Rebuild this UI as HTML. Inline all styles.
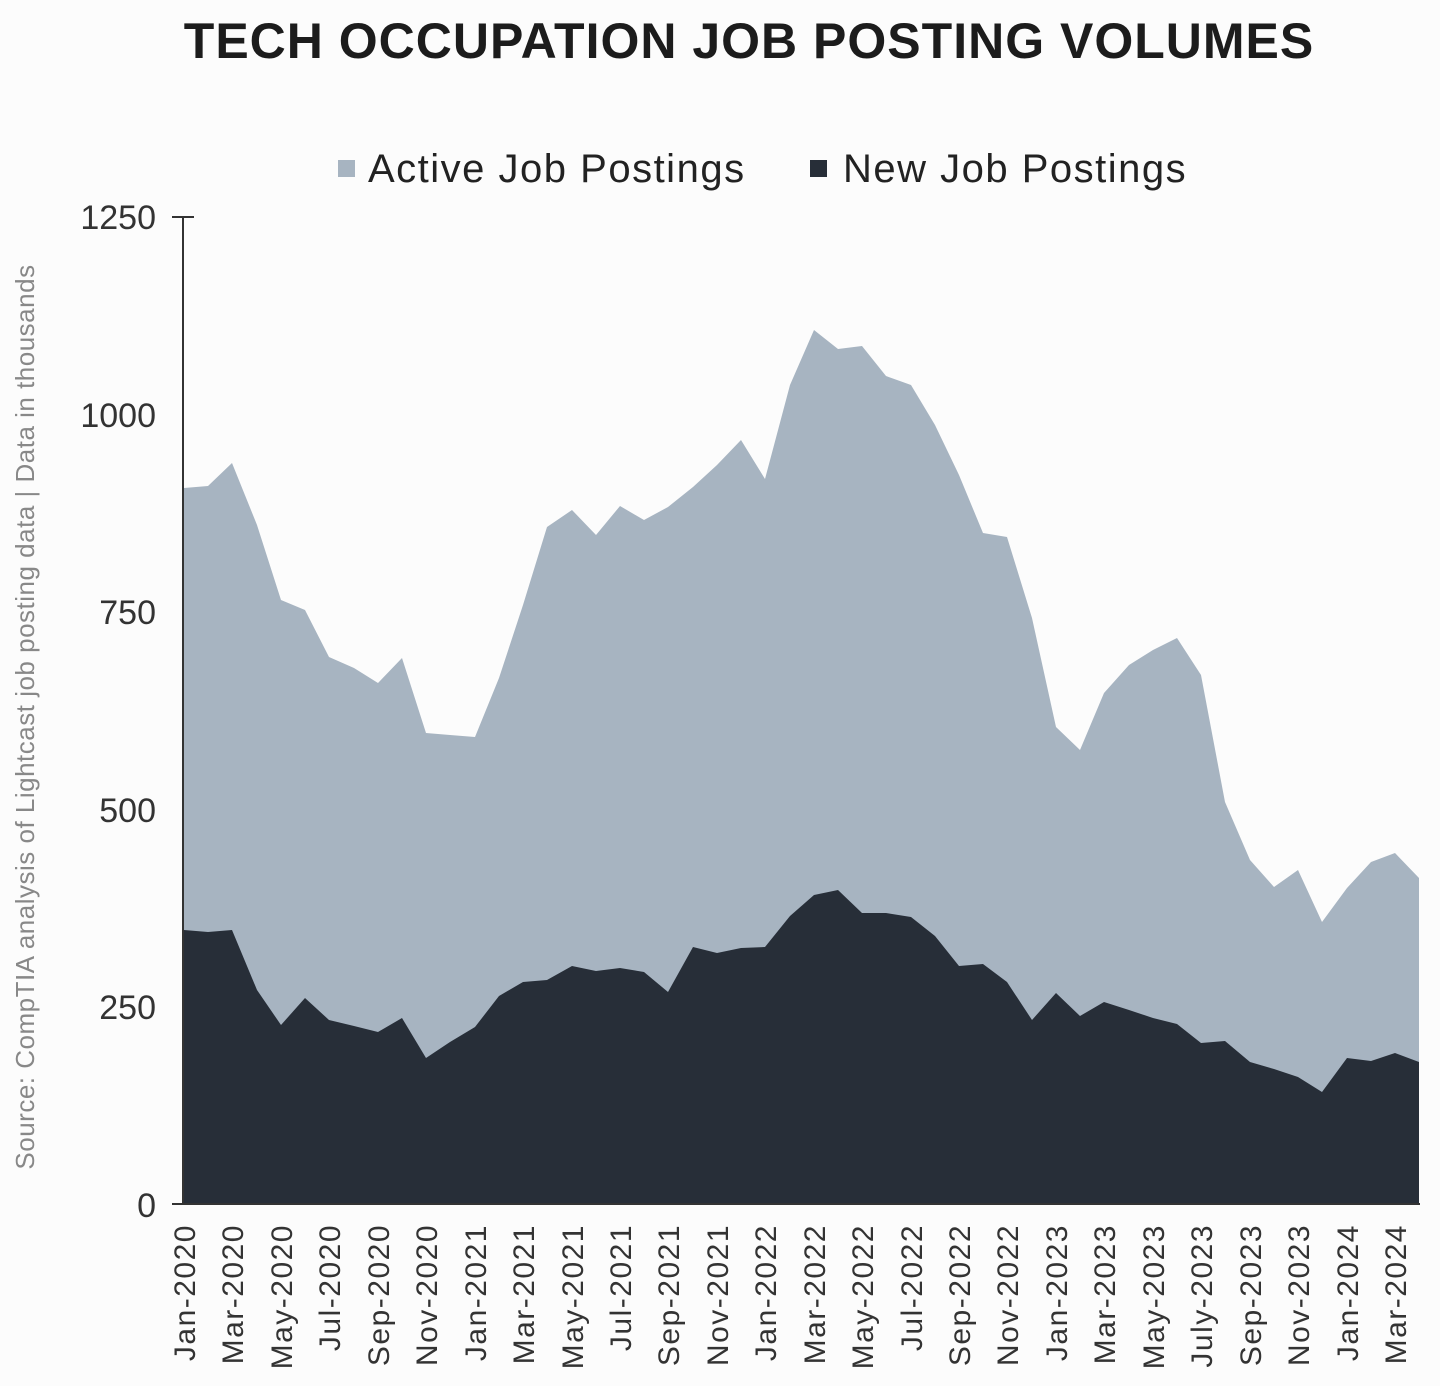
<!DOCTYPE html>
<html><head><meta charset="utf-8"><style>
html,body{margin:0;padding:0;background:#fcfcfc;}
svg{display:block}
text{font-family:"Liberation Sans",sans-serif;}
</style></head><body>
<svg width="1440" height="1386" viewBox="0 0 1440 1386">
<rect width="1440" height="1386" fill="#fcfcfc"/>
<text x="749" y="58" text-anchor="middle" font-size="50" font-weight="bold" fill="#1c1c1c" letter-spacing="1">TECH OCCUPATION JOB POSTING VOLUMES</text>
<rect x="338" y="160" width="17" height="17" fill="#a7b4c1"/>
<text x="368" y="182" font-size="40" fill="#222" letter-spacing="1.5">Active Job Postings</text>
<rect x="810" y="160" width="17" height="17" fill="#272e38"/>
<text x="843" y="182" font-size="40" fill="#222" letter-spacing="1.5">New Job Postings</text>
<polygon fill="#a7b4c1" points="184,1204 184,488 208,486 232,463 257,525 281,600 305,610 329,657 354,668 378,683 402,658 426,733 450,735 475,737 499,678 523,605 547,527 572,510 596,535 620,506 644,520 668,507 693,487 717,465 741,440 765,479 790,385 814,330 838,349 862,346 886,376 911,385 935,425 959,475 983,533 1007,537 1032,618 1056,727 1080,750 1104,693 1129,665 1153,650 1177,638 1201,675 1225,802 1250,860 1274,887 1298,870 1322,922 1347,888 1371,862 1395,853 1419,878 1419,1204"/>
<polygon fill="#272e38" points="184,1204 184,930 208,932 232,930 257,990 281,1025 305,998 329,1020 354,1026 378,1032 402,1018 426,1058 450,1042 475,1027 499,996 523,982 547,980 572,966 596,971 620,968 644,972 668,992 693,947 717,953 741,948 765,947 790,916 814,895 838,890 862,913 886,913 911,917 935,936 959,966 983,964 1007,982 1032,1020 1056,993 1080,1016 1104,1002 1129,1010 1153,1018 1177,1024 1201,1043 1225,1041 1250,1062 1274,1069 1298,1077 1322,1092 1347,1058 1371,1061 1395,1053 1419,1062 1419,1204"/>
<g stroke="#333" stroke-width="2">
<line x1="183" y1="216" x2="183" y2="1205"/>
<line x1="172" y1="217" x2="194" y2="217"/>
<line x1="172" y1="1204" x2="1420" y2="1204"/>
</g>
<g font-size="34" fill="#333" text-anchor="end">
<text x="156" y="229">1250</text>
<text x="156" y="427">1000</text>
<text x="156" y="624">750</text>
<text x="156" y="822">500</text>
<text x="156" y="1019">250</text>
<text x="156" y="1217">0</text>
</g>
<text transform="translate(34,717) rotate(-90)" text-anchor="middle" font-size="26" fill="#888" letter-spacing="0.5">Source: CompTIA analysis of Lightcast job posting data | Data in thousands</text>
<g font-size="30" fill="#333" text-anchor="end" letter-spacing="1.5">
<text transform="translate(195,1224) rotate(-90)">Jan-2020</text>
<text transform="translate(243,1224) rotate(-90)">Mar-2020</text>
<text transform="translate(292,1224) rotate(-90)">May-2020</text>
<text transform="translate(340,1224) rotate(-90)">Jul-2020</text>
<text transform="translate(389,1224) rotate(-90)">Sep-2020</text>
<text transform="translate(437,1224) rotate(-90)">Nov-2020</text>
<text transform="translate(486,1224) rotate(-90)">Jan-2021</text>
<text transform="translate(534,1224) rotate(-90)">Mar-2021</text>
<text transform="translate(583,1224) rotate(-90)">May-2021</text>
<text transform="translate(631,1224) rotate(-90)">Jul-2021</text>
<text transform="translate(679,1224) rotate(-90)">Sep-2021</text>
<text transform="translate(728,1224) rotate(-90)">Nov-2021</text>
<text transform="translate(776,1224) rotate(-90)">Jan-2022</text>
<text transform="translate(825,1224) rotate(-90)">Mar-2022</text>
<text transform="translate(873,1224) rotate(-90)">May-2022</text>
<text transform="translate(922,1224) rotate(-90)">Jul-2022</text>
<text transform="translate(970,1224) rotate(-90)">Sep-2022</text>
<text transform="translate(1018,1224) rotate(-90)">Nov-2022</text>
<text transform="translate(1067,1224) rotate(-90)">Jan-2023</text>
<text transform="translate(1115,1224) rotate(-90)">Mar-2023</text>
<text transform="translate(1164,1224) rotate(-90)">May-2023</text>
<text transform="translate(1212,1224) rotate(-90)">July-2023</text>
<text transform="translate(1261,1224) rotate(-90)">Sep-2023</text>
<text transform="translate(1309,1224) rotate(-90)">Nov-2023</text>
<text transform="translate(1358,1224) rotate(-90)">Jan-2024</text>
<text transform="translate(1406,1224) rotate(-90)">Mar-2024</text>
</g>
</svg>
</body></html>
